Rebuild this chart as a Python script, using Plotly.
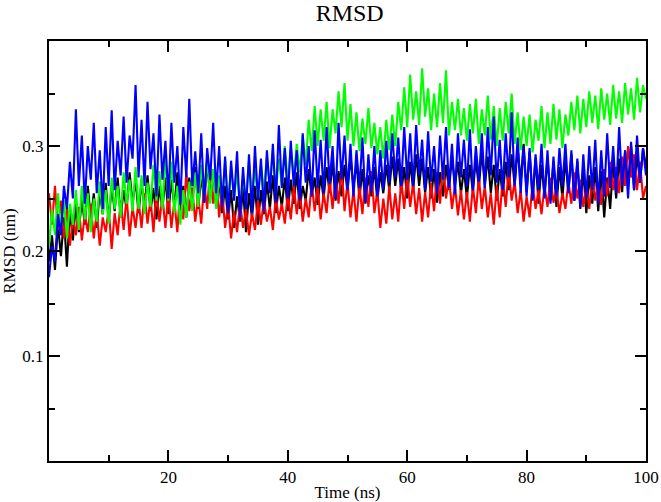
import plotly.graph_objects as go

# time axis, 0.5 ns sampling
time_ns = [i * 0.5 for i in range(201)]

# RMSD values (nm)
rmsd_black = [
    0.190, 0.215, 0.182, 0.225, 0.195, 0.232, 0.185, 0.240, 0.210, 0.245,
    0.218, 0.250, 0.225, 0.262, 0.230, 0.255, 0.222, 0.258, 0.235, 0.265,
    0.228, 0.262, 0.238, 0.270, 0.232, 0.258, 0.240, 0.275, 0.245, 0.268,
    0.236, 0.265, 0.242, 0.272, 0.238, 0.260, 0.230, 0.262, 0.240, 0.270,
    0.235, 0.268, 0.242, 0.275, 0.238, 0.262, 0.232, 0.270, 0.245, 0.280,
    0.240, 0.272, 0.246, 0.285, 0.250, 0.278, 0.242, 0.268, 0.236, 0.262,
    0.230, 0.258, 0.222, 0.252, 0.228, 0.260, 0.218, 0.255, 0.232, 0.262,
    0.225, 0.258, 0.235, 0.266, 0.240, 0.272, 0.236, 0.262, 0.242, 0.270,
    0.238, 0.268, 0.245, 0.275, 0.240, 0.262, 0.248, 0.278, 0.252, 0.270,
    0.244, 0.272, 0.250, 0.280, 0.255, 0.285, 0.248, 0.276, 0.252, 0.282,
    0.256, 0.290, 0.260, 0.285, 0.250, 0.278, 0.245, 0.272, 0.252, 0.280,
    0.248, 0.275, 0.255, 0.282, 0.258, 0.290, 0.262, 0.288, 0.255, 0.280,
    0.250, 0.285, 0.258, 0.292, 0.262, 0.288, 0.255, 0.280, 0.250, 0.278,
    0.246, 0.275, 0.252, 0.282, 0.258, 0.290, 0.262, 0.285, 0.255, 0.278,
    0.250, 0.282, 0.256, 0.288, 0.260, 0.295, 0.262, 0.290, 0.255, 0.282,
    0.248, 0.278, 0.252, 0.285, 0.258, 0.292, 0.262, 0.298, 0.265, 0.302,
    0.256, 0.295, 0.250, 0.288, 0.245, 0.282, 0.252, 0.290, 0.248, 0.285,
    0.242, 0.280, 0.250, 0.288, 0.255, 0.292, 0.248, 0.285, 0.240, 0.278,
    0.236, 0.272, 0.245, 0.280, 0.238, 0.276, 0.232, 0.270, 0.240, 0.285,
    0.250, 0.288, 0.256, 0.295, 0.262, 0.300, 0.258, 0.292, 0.265, 0.298,
    0.280,
]

rmsd_red = [
    0.255, 0.225, 0.262, 0.220, 0.248, 0.212, 0.240, 0.205, 0.232, 0.215,
    0.242, 0.210, 0.235, 0.218, 0.245, 0.212, 0.238, 0.205, 0.232, 0.218,
    0.240, 0.202, 0.236, 0.215, 0.248, 0.220, 0.252, 0.214, 0.242, 0.222,
    0.248, 0.222, 0.255, 0.226, 0.250, 0.218, 0.258, 0.228, 0.252, 0.222,
    0.255, 0.222, 0.248, 0.218, 0.262, 0.230, 0.275, 0.238, 0.260, 0.228,
    0.252, 0.226, 0.265, 0.240, 0.280, 0.245, 0.270, 0.232, 0.258, 0.222,
    0.245, 0.212, 0.238, 0.218, 0.246, 0.222, 0.240, 0.215, 0.236, 0.220,
    0.248, 0.225, 0.250, 0.228, 0.242, 0.220, 0.252, 0.230, 0.245, 0.226,
    0.255, 0.230, 0.262, 0.235, 0.258, 0.228, 0.250, 0.232, 0.265, 0.238,
    0.262, 0.230, 0.255, 0.236, 0.268, 0.240, 0.272, 0.245, 0.280, 0.238,
    0.266, 0.232, 0.258, 0.228, 0.262, 0.235, 0.270, 0.242, 0.276, 0.236,
    0.258, 0.222, 0.250, 0.226, 0.262, 0.230, 0.255, 0.228, 0.268, 0.240,
    0.272, 0.242, 0.265, 0.235, 0.260, 0.228, 0.256, 0.232, 0.265, 0.238,
    0.275, 0.245, 0.282, 0.250, 0.270, 0.240, 0.262, 0.234, 0.258, 0.230,
    0.256, 0.228, 0.262, 0.236, 0.270, 0.240, 0.262, 0.232, 0.255, 0.225,
    0.262, 0.232, 0.270, 0.242, 0.278, 0.248, 0.266, 0.236, 0.258, 0.228,
    0.252, 0.232, 0.265, 0.240, 0.258, 0.235, 0.262, 0.242, 0.270, 0.246,
    0.260, 0.236, 0.255, 0.240, 0.266, 0.245, 0.275, 0.250, 0.268, 0.242,
    0.262, 0.240, 0.272, 0.248, 0.265, 0.244, 0.278, 0.252, 0.285, 0.258,
    0.280, 0.255, 0.290, 0.262, 0.300, 0.270, 0.292, 0.258, 0.285, 0.250,
    0.262,
]

rmsd_green = [
    0.205, 0.240, 0.215, 0.255, 0.220, 0.248, 0.212, 0.245, 0.225, 0.258,
    0.220, 0.262, 0.230, 0.255, 0.218, 0.250, 0.228, 0.266, 0.235, 0.258,
    0.226, 0.270, 0.240, 0.262, 0.232, 0.275, 0.245, 0.268, 0.238, 0.280,
    0.240, 0.272, 0.235, 0.265, 0.242, 0.282, 0.248, 0.276, 0.240, 0.290,
    0.248, 0.285, 0.236, 0.262, 0.225, 0.258, 0.232, 0.266, 0.238, 0.275,
    0.242, 0.282, 0.250, 0.290, 0.245, 0.278, 0.240, 0.272, 0.248, 0.286,
    0.244, 0.280, 0.250, 0.275, 0.242, 0.270, 0.248, 0.285, 0.255, 0.278,
    0.250, 0.282, 0.258, 0.290, 0.262, 0.296, 0.255, 0.288, 0.262, 0.300,
    0.265, 0.296, 0.270, 0.302, 0.275, 0.310, 0.282, 0.325, 0.295, 0.338,
    0.300, 0.335, 0.305, 0.342, 0.298, 0.335, 0.312, 0.352, 0.318, 0.360,
    0.305, 0.340, 0.300, 0.332, 0.295, 0.326, 0.302, 0.336, 0.298, 0.322,
    0.292, 0.318, 0.288, 0.325, 0.296, 0.330, 0.300, 0.342, 0.315, 0.356,
    0.318, 0.368, 0.325, 0.352, 0.320, 0.374, 0.328, 0.355, 0.315, 0.350,
    0.318, 0.360, 0.322, 0.372, 0.310, 0.342, 0.315, 0.345, 0.310, 0.336,
    0.305, 0.340, 0.312, 0.345, 0.302, 0.335, 0.310, 0.348, 0.306, 0.338,
    0.300, 0.336, 0.305, 0.342, 0.312, 0.350, 0.302, 0.332, 0.296, 0.328,
    0.300, 0.330, 0.294, 0.325, 0.305, 0.338, 0.298, 0.332, 0.302, 0.340,
    0.306, 0.335, 0.298, 0.330, 0.310, 0.342, 0.315, 0.348, 0.312, 0.345,
    0.318, 0.352, 0.322, 0.348, 0.316, 0.355, 0.325, 0.350, 0.320, 0.358,
    0.326, 0.352, 0.322, 0.360, 0.330, 0.355, 0.325, 0.365, 0.332, 0.358,
    0.345,
]

rmsd_blue = [
    0.175, 0.205, 0.190, 0.235, 0.215, 0.262, 0.240, 0.285, 0.250, 0.335,
    0.262, 0.310, 0.245, 0.300, 0.268, 0.322, 0.255, 0.296, 0.240, 0.318,
    0.262, 0.334, 0.258, 0.305, 0.272, 0.328, 0.265, 0.310, 0.288, 0.358,
    0.270, 0.325, 0.262, 0.342, 0.278, 0.312, 0.252, 0.330, 0.268, 0.305,
    0.250, 0.322, 0.265, 0.300, 0.244, 0.318, 0.270, 0.345, 0.262, 0.295,
    0.255, 0.312, 0.246, 0.298, 0.268, 0.322, 0.255, 0.300, 0.242, 0.290,
    0.236, 0.286, 0.248, 0.295, 0.232, 0.280, 0.240, 0.292, 0.236, 0.300,
    0.248, 0.288, 0.238, 0.296, 0.255, 0.302, 0.246, 0.320, 0.260, 0.298,
    0.250, 0.305, 0.262, 0.296, 0.248, 0.312, 0.265, 0.300, 0.252, 0.315,
    0.260, 0.306, 0.255, 0.318, 0.264, 0.300, 0.250, 0.322, 0.268, 0.310,
    0.258, 0.302, 0.252, 0.296, 0.260, 0.308, 0.246, 0.292, 0.256, 0.300,
    0.252, 0.296, 0.258, 0.305, 0.265, 0.312, 0.270, 0.308, 0.262, 0.318,
    0.268, 0.312, 0.262, 0.320, 0.272, 0.306, 0.258, 0.314, 0.266, 0.300,
    0.255, 0.310, 0.268, 0.318, 0.260, 0.302, 0.254, 0.312, 0.270, 0.306,
    0.262, 0.316, 0.258, 0.300, 0.266, 0.312, 0.260, 0.318, 0.272, 0.328,
    0.265, 0.306, 0.258, 0.312, 0.270, 0.332, 0.262, 0.308, 0.255, 0.300,
    0.252, 0.298, 0.248, 0.292, 0.258, 0.302, 0.250, 0.296, 0.245, 0.290,
    0.252, 0.298, 0.262, 0.302, 0.255, 0.296, 0.248, 0.288, 0.242, 0.292,
    0.250, 0.300, 0.258, 0.306, 0.245, 0.296, 0.252, 0.312, 0.260, 0.300,
    0.255, 0.318, 0.262, 0.296, 0.250, 0.304, 0.258, 0.310, 0.265, 0.298,
    0.272,
]

series = [
    ("black", rmsd_black, "#000000"),
    ("red", rmsd_red, "#ff0000"),
    ("green", rmsd_green, "#00ff00"),
    ("blue", rmsd_blue, "#0000ff"),
]

x_ticks = [20, 40, 60, 80, 100]
y_ticks = [0.1, 0.2, 0.3]

fig = go.Figure()
for name, vals, color in series:
    fig.add_trace(go.Scatter(x=time_ns, y=vals, mode="lines", name=name,
                             line=dict(color=color, width=2.1)))

font_family = "Liberation Serif"
axis_common = dict(
    showline=True, linecolor="black", linewidth=2, mirror="ticks",
    ticks="inside", ticklen=11, tickwidth=1.5, tickcolor="black",
    showgrid=False, zeroline=False, automargin=False,
    ticklabeloverflow="allow",
    tickfont=dict(family=font_family, size=17, color="black"),
)

fig.update_layout(
    width=661, height=502,
    margin=dict(l=49, r=15, t=41, b=41),
    paper_bgcolor="white", plot_bgcolor="white",
    showlegend=False,
    title=dict(text="RMSD", x=0.529, xanchor="center", y=0.975, yanchor="middle",
               font=dict(family=font_family, size=24, color="black")),
    xaxis=dict(range=[0, 100], tickvals=x_ticks,
               minor=dict(ticks="inside", ticklen=6, dtick=10, tick0=0,
                          tickcolor="black", tickwidth=1.5),
               title=dict(text="Time (ns)", standoff=0,
                          font=dict(family=font_family, size=17, color="black")),
               **axis_common),
    yaxis=dict(range=[0, 0.4], tickvals=y_ticks,
               minor=dict(ticks="inside", ticklen=6, dtick=0.05, tick0=0,
                          tickcolor="black", tickwidth=1.5),
               title=dict(text="RMSD (nm)", standoff=2,
                          font=dict(family=font_family, size=17, color="black")),
               **axis_common),
)

# drop the default page margin so the figure sits at the window's corner
fig.write_html("out.html", config={"displayModeBar": False},
               post_script="document.body.style.margin='0px';")
